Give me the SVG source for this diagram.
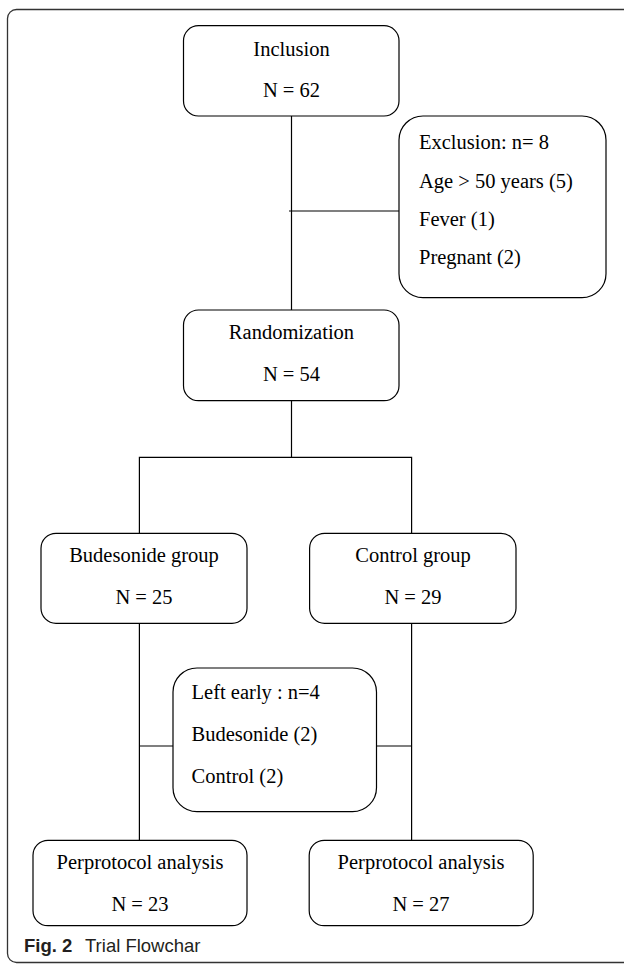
<svg xmlns="http://www.w3.org/2000/svg" width="624" height="966" viewBox="0 0 624 966">
<style>
.box{fill:#fff;stroke:#000;stroke-width:1.2}
.ln{fill:none;stroke:#000;stroke-width:1.2}
.t{font-family:"Liberation Serif","Times New Roman",serif;font-size:20.5px;fill:#000}
.c{text-anchor:middle}
.cap{font-family:"Liberation Sans",Arial,sans-serif;font-size:18.5px;fill:#231f20}
</style>
<rect x="7.5" y="9.5" width="640" height="953" rx="9" fill="none" stroke="#333" stroke-width="1.3"/>
<g id="connectors">
<path class="ln" d="M291.5 116 V310"/>
<path class="ln" d="M289 211 H399"/>
<path class="ln" d="M291.5 400.7 V457.3"/>
<path class="ln" d="M139.4 533.3 V457.3 H411.6 V533.3"/>
<path class="ln" d="M139.4 623.3 V840.3"/>
<path class="ln" d="M411.6 623.3 V840.3"/>
<path class="ln" d="M139.4 746 H173"/>
<path class="ln" d="M376.5 746 H411.6"/>
</g>
<g id="inclusion">
<rect class="box" x="183.5" y="25.7" width="215.5" height="90.3" rx="15"/>
<text class="t c" x="291.5" y="55.5">Inclusion</text>
<text class="t c" x="291.5" y="96.7">N = 62</text>
</g>
<g id="exclusion">
<rect class="box" x="399" y="116" width="207" height="181.7" rx="24"/>
<text class="t" x="419" y="149">Exclusion: n= 8</text>
<text class="t" x="419" y="188.3">Age &gt; 50 years (5)</text>
<text class="t" x="419" y="226">Fever (1)</text>
<text class="t" x="419" y="264.3">Pregnant (2)</text>
</g>
<g id="randomization">
<rect class="box" x="183.5" y="310" width="215.5" height="90.7" rx="15"/>
<text class="t c" x="291.5" y="339.3">Randomization</text>
<text class="t c" x="291.5" y="381">N = 54</text>
</g>
<g id="budesonide">
<rect class="box" x="41" y="533.3" width="206" height="90" rx="15"/>
<text class="t c" x="144" y="562.3">Budesonide group</text>
<text class="t c" x="144" y="604">N = 25</text>
</g>
<g id="control">
<rect class="box" x="309.6" y="533.3" width="206.4" height="90" rx="15"/>
<text class="t c" x="413" y="562.3">Control group</text>
<text class="t c" x="413" y="604">N = 29</text>
</g>
<g id="leftearly">
<rect class="box" x="173" y="668" width="203.5" height="143.7" rx="24"/>
<text class="t" x="191.6" y="699.3">Left early : n=4</text>
<text class="t" x="191.6" y="741">Budesonide (2)</text>
<text class="t" x="191.6" y="782.7">Control (2)</text>
</g>
<g id="pp-budesonide">
<rect class="box" x="33" y="840.3" width="214" height="85.4" rx="15"/>
<text class="t c" x="140" y="869.3">Perprotocol analysis</text>
<text class="t c" x="140" y="910.7">N = 23</text>
</g>
<g id="pp-control">
<rect class="box" x="309.2" y="840.3" width="224" height="85.4" rx="15"/>
<text class="t c" x="421" y="869.3">Perprotocol analysis</text>
<text class="t c" x="421" y="910.7">N = 27</text>
</g>
<text class="cap" x="24" y="951.7"><tspan font-weight="bold">Fig. 2</tspan><tspan x="85">Trial Flowchar</tspan></text>
</svg>
